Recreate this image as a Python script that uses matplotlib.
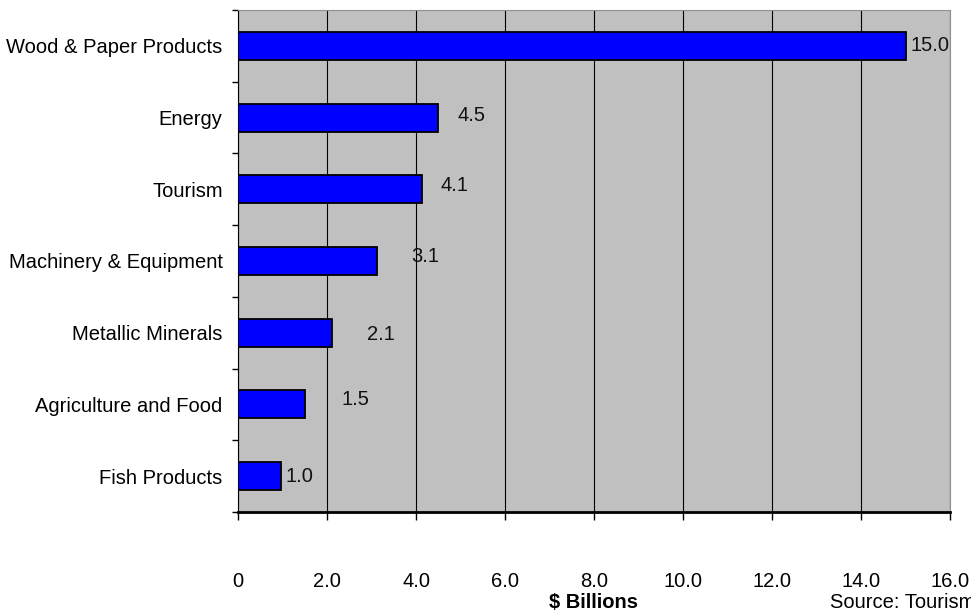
import matplotlib
matplotlib.use("Agg")
import matplotlib.pyplot as plt
from matplotlib import font_manager

categories = ["Wood & Paper Products", "Energy", "Tourism", "Machinery & Equipment",
              "Metallic Minerals", "Agriculture and Food", "Fish Products"]
values = [15.0, 4.5, 4.13, 3.12, 2.11, 1.5, 0.97]
value_labels = ["15.0", "4.5", "4.1", "3.1", "2.1", "1.5", "1.0"]
label_x = [15.55, 5.24, 4.87, 4.2, 3.21, 2.65, 1.39]
label_dy = [0.0, -0.03, -0.05, -0.06, 0.03, -0.07, 0.0]
xticks = [0, 2, 4, 6, 8, 10, 12, 14, 16]
xtick_labels = ["0", "2.0", "4.0", "6.0", "8.0", "10.0", "12.0", "14.0", "16.0"]

names = {f.name for f in font_manager.fontManager.ttflist}
fam = "Liberation Sans Narrow" if "Liberation Sans Narrow" in names else "Liberation Sans"
plt.rcParams['font.family'] = [fam, 'DejaVu Sans']
FS = 14.5

fig = plt.figure(figsize=(9.71, 6.14), dpi=100)
ax = fig.add_axes([238/971, 1 - 512/614, (950-238)/971, (512-10)/614])
ax.set_facecolor("#C0C0C0")

n = len(categories)
ypos = list(range(n))
ax.barh(ypos, values, height=0.39, color="#0000FF", edgecolor="black", linewidth=1.3, zorder=3)
ax.set_ylim(n - 0.5, -0.5)
ax.set_xlim(0, 16)

for i, (lx, lab) in enumerate(zip(label_x, value_labels)):
    ax.text(lx, i + label_dy[i], lab, ha="center", va="center", fontsize=FS, color="#111111", zorder=4)

ax.set_yticks([i - 0.5 for i in range(n + 1)], minor=False)
ax.set_yticklabels([])
ax.set_yticks(ypos, minor=True)
ax.set_yticklabels(categories, minor=True, fontsize=FS)
ax.tick_params(axis="y", which="minor", length=0, pad=11)
ax.tick_params(axis="y", which="major", length=4, width=1, direction="out")

ax.set_xticks(xticks)
ax.set_xticklabels(xtick_labels, fontsize=FS)
ax.tick_params(axis="x", length=6, width=1, direction="out", pad=37)

ax.grid(axis="x", color="black", linewidth=0.8, zorder=1)
ax.set_axisbelow(True)

ax.spines["top"].set_color("#909090")
ax.spines["right"].set_color("#909090")
ax.spines["left"].set_color("black")
ax.spines["bottom"].set_color("black")
ax.spines["bottom"].set_linewidth(2)

fig.text(593/971, 1 - 602/614, "$ Billions", ha="center", va="center", fontsize=FS, fontweight="bold")
fig.text(830/971, 1 - 602/614, "Source: Tourism", ha="left", va="center", fontsize=FS)

fig.savefig("out.png", dpi=100)
